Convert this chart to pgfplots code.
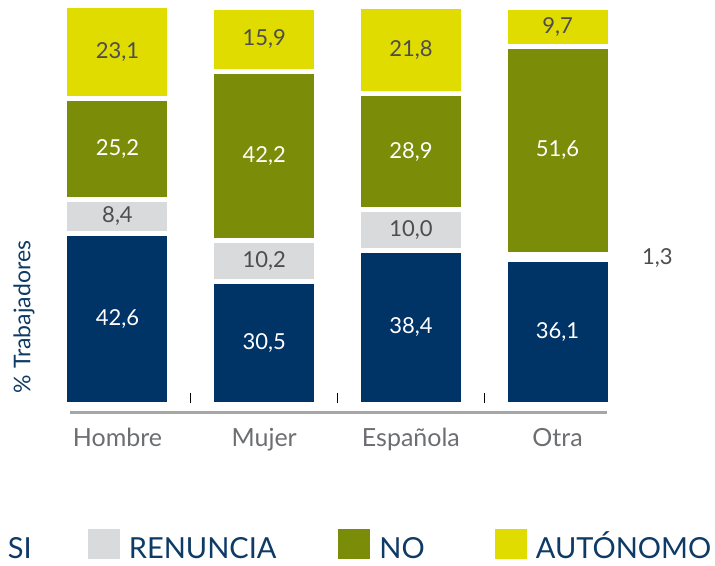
\documentclass[border=0pt]{standalone}
\usepackage{pgfplots}
\usepackage{pgfplotstable}
\pgfplotsset{compat=1.18}
\usepackage{fontspec}
\setmainfont{Lato}
\definecolor{cblue}{HTML}{003366}
\definecolor{cgrey}{HTML}{D9DADB}
\definecolor{cgreen}{HTML}{7A8C08}
\definecolor{cyellow}{HTML}{E0DC00}
\definecolor{valgray}{HTML}{4D4D4F}
\definecolor{labgray}{HTML}{6D6E71}
\definecolor{legblue}{HTML}{0E3A66}
\definecolor{axgray}{HTML}{A6A6A6}

\pgfplotstableread{
x y lab
0 42.6 42,6
1 30.5 30,5
2 38.4 38,4
3 36.1 36,1
}\si
\pgfplotstableread{
x y lab
0 8.4 8,4
1 10.2 10,2
2 10.0 10,0
3 1.3 {}
}\renuncia
\pgfplotstableread{
x y lab
0 25.2 25,2
1 42.2 42,2
2 28.9 28,9
3 51.6 51,6
}\no
\pgfplotstableread{
x y lab
0 23.1 23,1
1 15.9 15,9
2 21.8 21,8
3 9.7 9,7
}\autonomo

\begin{document}
\begin{tikzpicture}
\path[use as bounding box] (-44.15bp,-161.5bp) rectangle (670.85bp,404.5bp);
\begin{axis}[
  at={(0,0)}, anchor=south west,
  scale only axis, width=586.8bp, height=402bp,
  xmin=-0.5, xmax=3.5, ymin=0, ymax=100,
  clip=false,
  ybar stacked, bar width=105bp,
  axis line style={draw=none},
  tick style={draw=none}, major tick length=0pt,
  ytick=\empty,
  xtick={0,1,2,3},
  xticklabels={Hombre,Mujer,Española,Otra},
  xticklabel style={anchor=base, yshift=-41.5bp, font=\fontsize{25bp}{25bp}\selectfont, text=labgray},
  ylabel={\% Trabajadores},
  every axis y label/.style={at={(axis description cs:-0.0343,0.2177)}, rotate=90, anchor=center, font=\fontsize{23bp}{23bp}\selectfont, text=legblue},
  every axis plot/.append style={draw=white, line width=5bp},
  point meta=explicit symbolic,
  nodes near coords={\pgfplotspointmeta},
  every node near coord/.append style={anchor=center, font=\fontsize{22bp}{22bp}\selectfont},
  legend columns=4,
  legend image code/.code={\fill[#1, draw=none] (0bp,0bp) rectangle (32bp,30bp);},
  legend style={at={(axis description cs:-0.1315,-0.3868)}, anchor=south west,
    draw=none, fill=none, inner sep=0pt, outer sep=0pt,
    font=\fontsize{29bp}{29bp}\selectfont, text=legblue,
    nodes={inner sep=0pt},
    cells={anchor=base west},
    /tikz/every odd column/.style={column sep=9bp},
    /tikz/column 2/.style={column sep=56bp},
    /tikz/column 4/.style={column sep=62bp},
    /tikz/column 6/.style={column sep=70bp}},
]
\addplot[fill=cblue, every node near coord/.append style={text=white}] table[x=x, y=y, meta=lab] {\si};
\addlegendentry{SI}
\addplot[fill=cgrey, every node near coord/.append style={text=valgray}] table[x=x, y=y, meta=lab] {\renuncia};
\addlegendentry{RENUNCIA}
\addplot[fill=cgreen, every node near coord/.append style={text=white}] table[x=x, y=y, meta=lab] {\no};
\addlegendentry{NO}
\addplot[fill=cyellow, every node near coord/.append style={text=valgray}] table[x=x, y=y, meta=lab] {\autonomo};
\addlegendentry{AUTÓNOMO}
\draw[axgray, line width=3bp] (axis cs:-0.324,-2.04) -- (axis cs:3.337,-2.04);
\draw[black, line width=0.8bp] (axis cs:0.5,0.37) -- (axis cs:0.5,2.86);
\draw[black, line width=0.8bp] (axis cs:1.5,0.37) -- (axis cs:1.5,2.86);
\draw[black, line width=0.8bp] (axis cs:2.5,0.37) -- (axis cs:2.5,2.86);
\node[text=valgray, font=\fontsize{22bp}{22bp}\selectfont] at (axis cs:3.68,36.4) {1,3};
\end{axis}
\end{tikzpicture}
\end{document}
